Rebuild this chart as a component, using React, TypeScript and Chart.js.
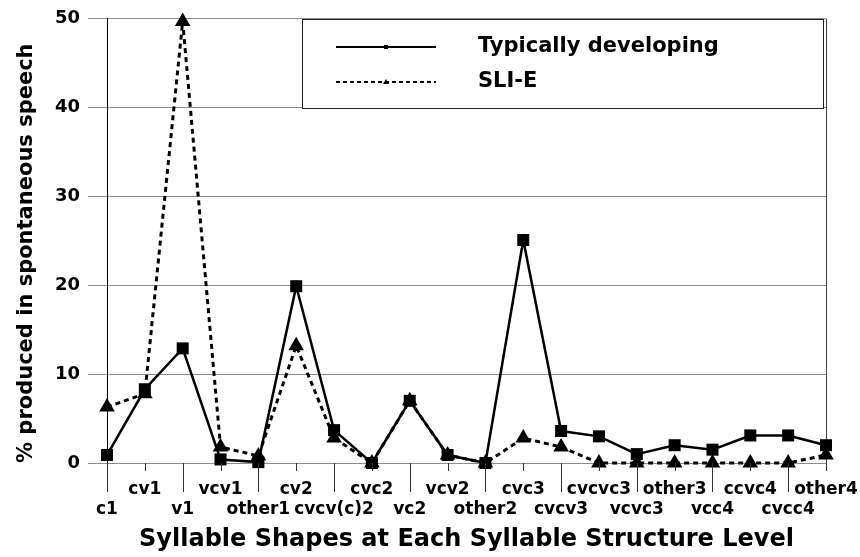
import React, { useEffect, useRef } from "react";
import { Chart, registerables } from "chart.js";

Chart.register(...registerables);

const categories = [
  "c1", "cv1", "v1", "vcv1", "other1", "cv2", "cvcv(c)2", "cvc2", "vc2", "vcv2",
  "other2", "cvc3", "cvcv3", "cvcvc3", "vcvc3", "other3", "vcc4", "ccvc4", "cvcc4", "other4",
];
const typicalValues = [
  0.9, 8.3, 12.9, 0.4, 0.1, 19.9, 3.7, 0, 7.0, 0.9,
  0, 25.1, 3.6, 3.0, 1.0, 2.0, 1.5, 3.1, 3.1, 2.0,
];
const sliValues = [
  6.3, 7.8, 49.7, 1.8, 0.8, 13.2, 2.8, 0, 7.0, 0.9,
  0, 2.8, 1.8, 0, 0, 0, 0, 0, 0, 0.9,
];
const seriesLabels = ["Typically developing", "SLI-E"];
const yTitle = "% produced in spontaneous speech";
const xTitle = "Syllable Shapes at Each Syllable Structure Level";

const FONT = "'DejaVu Sans', sans-serif";

const legendBox = {
  id: "legendBox",
  afterDatasetsDraw(chart: any) {
    const { ctx, chartArea, scales } = chart;
    const y = scales.y;
    const top = Math.round(y.getPixelForValue(50));
    const bottom = Math.round(y.getPixelForValue(40));
    const right = chartArea.right - 3;
    const left = right - 521;
    ctx.save();
    ctx.fillStyle = "#fff";
    ctx.fillRect(left, top, right - left, bottom - top);
    ctx.strokeStyle = "#222";
    ctx.lineWidth = 1;
    ctx.strokeRect(left + 0.5, top + 0.5, right - left, bottom - top);
    chart.data.datasets.forEach((ds: any, i: number) => {
      const rowY = top + 28 + i * 35;
      ctx.strokeStyle = "#000";
      ctx.lineWidth = 2;
      ctx.setLineDash(i === 1 ? [4, 3] : []);
      ctx.beginPath();
      ctx.moveTo(left + 34, rowY);
      ctx.lineTo(left + 134, rowY);
      ctx.stroke();
      ctx.setLineDash([]);
      ctx.fillStyle = "#000";
      const mx = left + 84;
      if (i === 0) {
        ctx.fillRect(mx - 2, rowY - 2, 4, 4);
      } else {
        ctx.beginPath();
        ctx.moveTo(mx, rowY - 3);
        ctx.lineTo(mx + 3, rowY + 2);
        ctx.lineTo(mx - 3, rowY + 2);
        ctx.closePath();
        ctx.fill();
      }
      ctx.font = `bold 21px ${FONT}`;
      ctx.textBaseline = "middle";
      ctx.textAlign = "left";
      ctx.fillText(ds.label, left + 176, rowY);
    });
    ctx.restore();
  },
};

const categoryTicks = {
  id: "categoryTicks",
  afterDraw(chart: any) {
    const { ctx, chartArea, scales } = chart;
    const x = scales.x;
    ctx.save();
    ctx.strokeStyle = "#333";
    ctx.lineWidth = 1;
    x.ticks.forEach((_t: any, i: number) => {
      const px = Math.round(x.getPixelForTick(i)) + 0.5;
      const len = i % 2 === 0 ? 29 : 8;
      ctx.beginPath();
      ctx.moveTo(px, chartArea.bottom);
      ctx.lineTo(px, chartArea.bottom + len);
      ctx.stroke();
    });
    ctx.restore();
  },
};

function SyllableChart() {
  const canvasRef = useRef<HTMLCanvasElement | null>(null);

  useEffect(() => {
    const canvas = canvasRef.current;
    if (!canvas) return;
    const last = categories.length - 1;
    const chart = new Chart(canvas, {
      type: "line",
      data: {
        labels: categories,
        datasets: [
          {
            label: seriesLabels[0],
            data: typicalValues,
            borderColor: "#000",
            backgroundColor: "#000",
            borderWidth: 2.5,
            pointStyle: "rect",
            pointRadius: 8.5,
            pointBackgroundColor: "#000",
            pointBorderColor: "#000",
            pointBorderWidth: 0,
            tension: 0,
            clip: false,
          },
          {
            label: seriesLabels[1],
            data: sliValues,
            borderColor: "#000",
            backgroundColor: "#000",
            borderWidth: 3,
            borderDash: [5, 4],
            pointStyle: "triangle",
            pointRadius: 9,
            pointBackgroundColor: "#000",
            pointBorderColor: "#000",
            pointBorderWidth: 0,
            tension: 0,
            clip: false,
          },
        ],
      },
      options: {
        responsive: false,
        animation: false,
        events: [],
        layout: { padding: { left: 0, top: 15, right: 34, bottom: 0 } },
        plugins: {
          legend: { display: false },
          tooltip: { enabled: false },
        },
        scales: {
          x: {
            type: "category",
            offset: false,
            afterFit: (s: any) => {
              s.height = 94;
              s.paddingLeft = 0;
              s.paddingRight = 0;
            },
            grid: {
              display: true,
              drawOnChartArea: true,
              drawTicks: false,
              color: (c: any) => (c.index === last ? "#444" : "rgba(0,0,0,0)"),
              lineWidth: 1,
            },
            border: { display: false },
            ticks: {
              autoSkip: false,
              maxRotation: 0,
              minRotation: 0,
              padding: 16,
              color: "#000",
              font: { family: FONT, weight: "bold", size: 17 },
              callback: function (this: any, value: any, index: number) {
                const label = this.getLabelForValue(value);
                return index % 2 === 0 ? ["", label] : label;
              },
            },
            title: {
              display: true,
              text: xTitle,
              color: "#000",
              font: { family: FONT, weight: "bold", size: 24 },
              padding: { top: 0, bottom: 3 },
            },
          },
          y: {
            min: 0,
            max: 50,
            afterFit: (s: any) => {
              s.width = 107;
            },
            grid: {
              color: "#8c8c8c",
              lineWidth: 1,
              tickLength: 19,
              tickColor: "#8c8c8c",
            },
            border: { display: true, color: "#000", width: 1 },
            ticks: {
              stepSize: 10,
              padding: 8,
              color: "#000",
              font: { family: FONT, weight: "bold", size: 18 },
            },
            title: {
              display: true,
              text: yTitle,
              align: "start",
              color: "#000",
              font: { family: FONT, weight: "bold", size: 21 },
              padding: { top: 14, bottom: 0 },
            },
          },
        },
      },
      plugins: [legendBox, categoryTicks],
    });
    return () => chart.destroy();
  }, []);

  return (
    <div style={{ position: "absolute", left: 0, top: 0, width: 860, height: 557, background: "#fff" }}>
      <canvas ref={canvasRef} width={860} height={557} style={{ display: "block" }} />
    </div>
  );
}

export default function App() {
  return <SyllableChart />;
}
